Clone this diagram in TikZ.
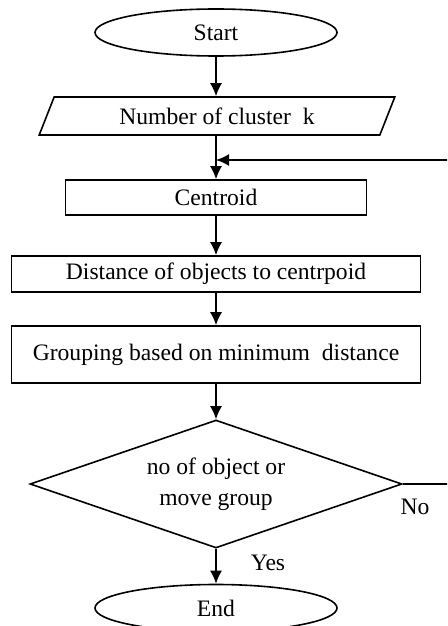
\documentclass[tikz,border=0pt]{standalone}
\usepackage{fontspec}
\setmainfont{Liberation Serif}
\usetikzlibrary{shapes.geometric,arrows.meta}

\begin{document}
\begin{tikzpicture}[x=0.5pt,y=-0.5pt,line width=0.8pt,
    font=\fontsize{11.8}{15.5}\selectfont,text centered]
            \tikzstyle{term}=[draw,ellipse,inner sep=0pt,minimum width=121pt,minimum height=23.5pt]
            \tikzstyle{io}=[draw,trapezium,trapezium left angle=62,trapezium right angle=118,
                trapezium stretches=true,minimum width=178pt,minimum height=19pt,inner sep=0pt]
            \tikzstyle{box}=[draw,rectangle,inner sep=0pt,minimum height=17.5pt]
            \tikzstyle{dec}=[draw,diamond,inner sep=0pt,aspect=2.9,minimum width=186pt,minimum height=64pt]
            \tikzstyle{arr}=[-{Latex[length=6.5pt,width=6pt]}]

            \useasboundingbox (0,0) rectangle (447,626);
            \clip (0,0) rectangle (447,626);

            \node[term] (st) at (216,32.5) {Start};
            \node[io] (num) at (217,116) {Number of cluster\ \ k};
            \node[box,minimum width=150.5pt] (cen) at (216,197.5) {Centroid};
            \node[box,minimum width=204.5pt,minimum height=18pt] (dist) at (216,274) {Distance of objects to centrpoid};
            \node[box,minimum width=204.5pt,minimum height=28.5pt] (grp) at (216,354.5) {Grouping based on minimum\ \ distance};
            \node[dec,align=center] (chk) at (216,484) {no of object or\\move group};
            \node[term] (en) at (216,608) {End};

            \node (no) at (415,507) {No};
            \node (yes) at (268,563) {Yes};

            \coordinate (fb) at (216,160);
            \coordinate (rt) at (470,484);

            \draw[arr] (st) -- (num.north -| st);
            \draw[arr] (num.south -| cen) -- (cen);
            \draw[arr] (cen) -- (dist);
            \draw[arr] (dist) -- (grp);
            \draw[arr] (grp) -- (chk);
            \draw[arr] (chk) -- (en);
            \draw[arr] (chk.east) -- (rt) |- (fb);
        \end{tikzpicture}
\end{document}
